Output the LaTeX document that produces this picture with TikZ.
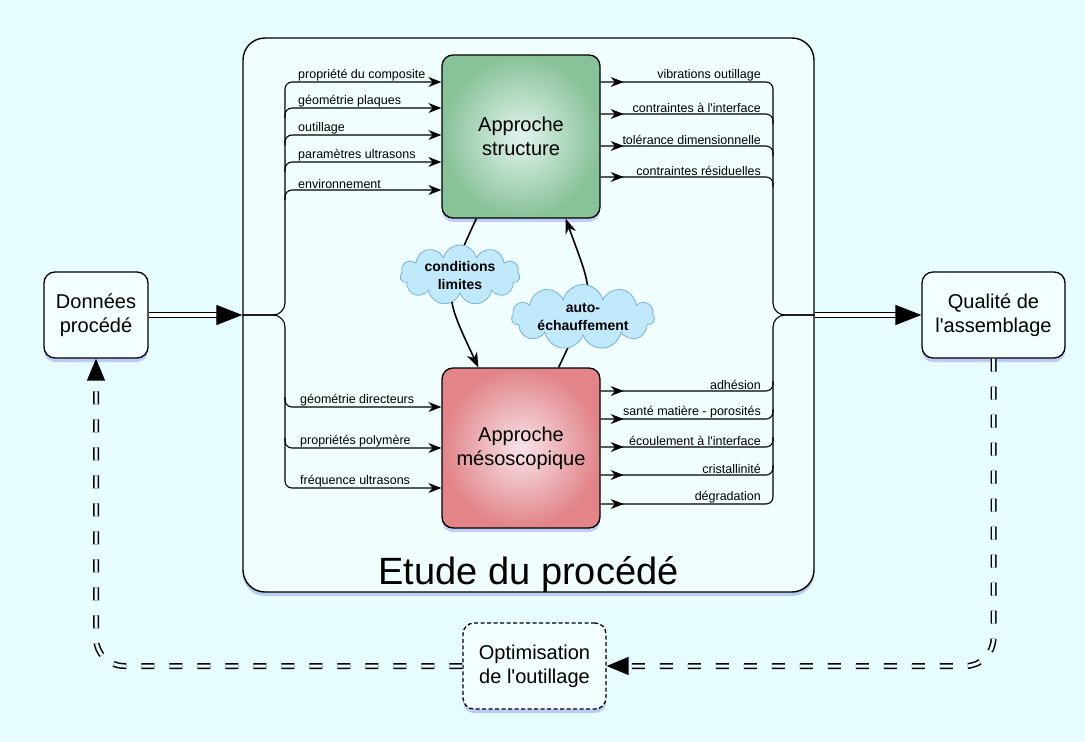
\documentclass[tikz,border=0pt]{standalone}
\usepackage{fontspec}
\setmainfont{Liberation Sans}
\usetikzlibrary{calc,arrows.meta,shapes.symbols,shadows,decorations.markings}

\definecolor{fond}{RGB}{231,252,255}
\definecolor{cadrefond}{RGB}{241,254,255}
\definecolor{boitefond}{RGB}{243,254,255}
\definecolor{vertbord}{RGB}{136,194,152}
\definecolor{vertcentre}{RGB}{226,244,238}
\definecolor{rougebord}{RGB}{226,132,136}
\definecolor{rougecentre}{RGB}{247,228,234}
\definecolor{nuagefond}{RGB}{192,233,251}
\definecolor{nuagetrait}{RGB}{118,176,220}
\definecolor{ombre}{RGB}{105,115,225}

\tikzset{
  ombrage/.style={drop shadow={shadow xshift=0pt, shadow yshift=-4pt, fill=ombre, opacity=.35}},
  boite/.style={draw, line width=1.3pt, rounded corners=11pt, align=center,
    font=\fontsize{20}{24}\selectfont, inner sep=0pt, ombrage},
  cadre/.style={draw, line width=1.4pt, rounded corners=22pt, fill=cadrefond,
    minimum width=571pt, minimum height=554pt, ombrage},
  lab/.style={font=\fontsize{12.5}{14}\selectfont, inner sep=1pt},
  nuage/.style={cloud, cloud puffs=11, cloud ignores aspect, draw=nuagetrait, fill=nuagefond,
    line width=0.8pt, align=center, font=\fontsize{14}{18}\selectfont\bfseries, inner sep=0pt},
  fil/.style={line width=1.1pt, rounded corners=7pt},
  entree/.style={fil, -{Stealth[length=13pt,width=10pt]}},
  sortie/.style={fil, postaction={decorate}, decoration={markings,
    mark=at position 23pt with {\arrow{Stealth[length=13pt,width=10pt]}}}},
  flux/.style={line width=1.6pt, -{Stealth[length=15pt,width=11pt]}},
  dblarrow/.style={double=white, double distance=3.5pt, line width=1.3pt,
    -{Triangle[length=26pt,width=20pt]}},
  retour/.style={double=fond, double distance=3pt, line width=1.5pt,
    dash pattern=on 13pt off 15pt, rounded corners=28pt,
    -{Triangle[length=22pt,width=18pt]}}
}

\begin{document}
\begin{tikzpicture}[x=1pt,y=1pt]
    \fill[fond] (0,0) rectangle (1085,-742);
    \useasboundingbox (0,0) rectangle (1085,-742);

    % le cadre
    \node[cadre] (frame) at (528.5,-315) {};
    \node[anchor=base, font=\fontsize{38}{40}\selectfont] (etude) at ($(frame.south)+(0,8)$) {Etude du procédé};

    % les boites
    \node[boite, minimum width=158pt, minimum height=163pt, inner color=vertcentre, outer color=vertbord] (struct) at (521,-136.5) {Approche\\structure};
    \node[boite, minimum width=158pt, minimum height=160pt, inner color=rougecentre, outer color=rougebord] (meso) at (521,-448) {Approche\\mésoscopique};
    \node[boite, fill=boitefond, minimum width=104pt, minimum height=86pt] (donnees) at (96,-315) {Données\\procédé};
    \node[boite, fill=boitefond, minimum width=143pt, minimum height=86pt] (qualite) at (993.5,-315) {Qualité de\\l\textquotesingle assemblage};
    \node[boite, fill=boitefond, dash pattern=on 4pt off 2.5pt, minimum width=143pt, minimum height=86pt] (optim) at (534.5,-666) {Optimisation\\de l\textquotesingle outillage};

    \coordinate (lbus) at (285,-315);
    \coordinate (rbus) at (773,-315);

    % entrees
    \draw[fil, rounded corners=12pt] (285,-92) |- (frame.west |- lbus);
    \draw[fil, rounded corners=12pt] (285,-478) |- (frame.west |- lbus);
    \foreach \y/\txt [count=\i] in {82/propriété du composite, 108/géométrie plaques, 135/outillage,
        162/paramètres ultrasons, 190/environnement} {
        \draw[entree] (285,-\y-10) |- (struct.west |- 0,-\y);
        \node[lab, anchor=south west] (hin\i) at (297,-\y) {\txt};
    }
    \foreach \y/\txt [count=\i] in {407/géométrie directeurs, 448/propriétés polymère, 488/fréquence ultrasons} {
        \draw[entree] (285,-\y+10) |- (meso.west |- 0,-\y);
        \node[lab, anchor=south west] (bin\i) at (299,-\y) {\txt};
    }

    % sorties
    \draw[fil, rounded corners=12pt] (773,-92) |- (frame.east |- rbus);
    \draw[fil, rounded corners=12pt] (773,-494) |- (frame.east |- rbus);
    \foreach \y/\txt [count=\i] in {82/vibrations outillage, 114/contraintes à l\textquotesingle interface,
        146/tolérance dimensionnelle, 177/contraintes résiduelles} {
        \draw[sortie] (struct.east |- 0,-\y) -| (773,-\y-10);
        \node[lab, anchor=south east] (hout\i) at (762,-\y) {\txt};
    }
    \foreach \y/\txt [count=\i] in {391/adhésion, 419/santé matière - porosités, 447/écoulement à l\textquotesingle interface,
        475/cristallinité, 504/dégradation} {
        \draw[sortie] (meso.east |- 0,-\y) -| (773,-\y+10);
        \node[lab, anchor=south east] (bout\i) at (762,-\y) {\txt};
    }

    % couplage
    \draw[flux] ($(struct.south west)+(35,0)$) to[out=-115,in=115,looseness=1.4] ($(meso.north west)+(37,0)$);
    \draw[flux] ($(meso.north east)+(-42,0)$) to[out=65,in=-70,looseness=1.5] ($(struct.south east)+(-35,0)$);
    \node[nuage, minimum width=120pt, minimum height=46pt] (cond) at (460,-275) {conditions\\limites};
    \node[nuage, minimum width=143pt, minimum height=47pt] (auto) at (583,-317) {auto-\\échauffement};

    % fleches principales
    \draw[dblarrow] (donnees.east) -- (frame.west |- donnees.east);
    \draw[dblarrow] (frame.east |- qualite.west) -- (qualite.west);
    \draw[retour] (qualite.south) |- (optim.east);
    \draw[retour] (optim.west) -| (donnees.south);
\end{tikzpicture}
\end{document}
